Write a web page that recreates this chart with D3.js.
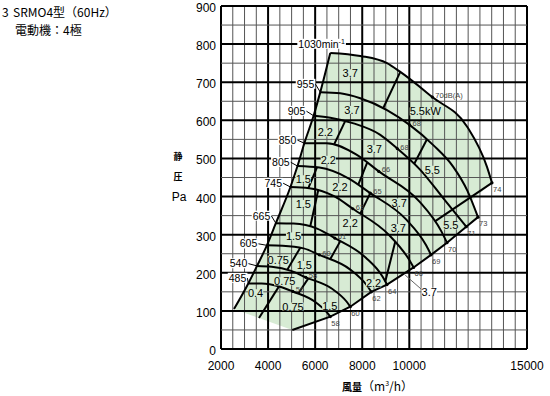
<!DOCTYPE html>
<html>
<head>
<meta charset="utf-8">
<script src="https://cdn.jsdelivr.net/npm/d3@7"></script>
<style>
  body { margin: 0; background: #fff; }
  svg text { font-family: "Noto Sans CJK JP", "Liberation Sans", sans-serif; }
  svg text.num { font-family: "Liberation Sans", Arial, sans-serif; }
  svg text.kw { font-family: "Liberation Sans Narrow", "Liberation Sans", sans-serif; }
</style>
</head>
<body>
<svg id="chart"></svg>
<script>
// tick labels
var xTicks = [2000, 4000, 6000, 8000, 10000, 15000];
var yTicks = [0, 100, 200, 300, 400, 500, 600, 700, 800, 900];

// fan speeds (min-1) and their curves: [airflow m3/h, static pressure Pa]
var speeds = [1030, 955, 905, 850, 805, 745, 665, 605, 540, 485];
var c1030 = [[6643,777],[7917,769],[9052,750],[9617,727],[10976,661],[12450,584],[13300,478],[13512,436]];
var c955  = [[6218,674],[7068,671],[7917,658],[9052,627],[10012,588],[11018,535],[11868,478],[12470,415],[12917,346]];
var c905  = [[5934,612],[6643,607],[7633,592],[8767,562],[9489,526],[10466,470],[11388,400],[12420,321]];
var c850  = [[5540,540],[6490,540],[7755,510],[8703,466],[10412,388],[11368,308],[11600,279]];
var c805  = [[5250,480],[6178,476],[7414,448],[8342,409],[9864,340],[10715,272],[10921,247]];
var c745  = [[4950,425],[5745,422],[6805,401],[7600,368],[9123,300],[9975,236],[10182,214]];
var c665  = [[4330,330],[5081,329],[6083,316],[6834,291],[8143,240],[8874,189],[9052,169]];
var c605  = [[3950,272],[4618,271],[5508,264],[6176,247],[7479,209],[8208,166],[8385,150]];
var c540  = [[3530,218],[4152,216],[4980,205],[5602,188],[6718,158],[7341,124],[7493,111]];
var c485  = [[3160,172],[3727,172],[4483,164],[5050,151],[5990,124],[6516,95],[6643,85]];
var curves = [c1030, c955, c905, c850, c805, c745, c665, c605, c540, c485];

// surge limit (left edge) and lower edge of the usable range
var surge = [[2552,105],[3160,172],[3530,218],[3950,272],[4330,330],[4950,425],[5250,480],[5540,540],[5934,612],[6218,674],[6643,777]];
var bottomEdge = [[2552,105],[5029,50]];
var edgeQ955 = 12650;   // where the 74 dB edge crosses the 955 curve

// noise (dB(A)) marks
var midQ  = [10976, 10012, 9489, 8703, 8342, 7600, 6834, 6176, 5602, 5050];
var midDb = ["70dB(A)", "68", "68", "66", "65", "63", "61", "60", "58", "56"];
var endDb = ["74", "73", "71", "70", "69", "66", "64", "62", "60", "58"];

// speed label anchors [Q, P]
var speedLabelAt = [[5284,800],[5963,695],[5581,624],[5199,548],[4914,490],[4591,435],[4094,349],[3542,276],[3117,224],[3075,186]];

// motor power boundaries: [upper curve, Q on it, lower curve (10 = lower edge), Q on it]
var dividers = [
  [0, 13512, 3, 11103],
  [0, 9617, 1, 8895],
  [1, 10751, 2, 10211],
  [2, 7280, 3, 6811],
  [3, 8215, 4, 7832],
  [4, 6078, 5, 5709], [4, 8342, 5, 7917],
  [5, 6133, 6, 5793], [5, 9404, 6, 8980],
  [6, 7070, 7, 6643],
  [7, 5369, 8, 4816],
  [8, 5709, 9, 5284],
  [9, 4464, 10, 3614]
];

// motor power labels [Q, P, kW]
var kwLabels = [
  [7492,723,"3.7"], [7565,627,"3.7"], [10678,623,"5.5kW"],
  [10976,470,"5.5"], [6431,568,"2.2"], [8512,524,"3.7"], [11762,324,"5.5"],
  [6558,496,"2.2"], [9570,384,"3.7"],
  [5496,445,"1.5"], [7055,424,"2.2"], [9532,317,"3.7"],
  [5496,380,"1.5"], [7492,331,"2.2"],
  [5084,295,"1.5"], [8482,172,"2.2"],
  [4434,234,"0.75"], [5539,220,"1.5"],
  [4710,177,"0.75"], [6622,112,"1.5"],
  [3470,146,"0.4"], [5058,111,"0.75"]
];
var kwLeader = [[9823,194],[10600,152]];
var kwLeaderLabel = [10848,150,"3.7"];

var svg = d3.select("#chart").attr("width", 550).attr("height", 396);
var x = d3.scaleLinear().domain([2000, 15000]).range([221, 527]);
var y = d3.scaleLinear().domain([0, 900]).range([349, 6]);
var smooth = d3.line().x(d => x(d[0])).y(d => y(d[1])).curve(d3.curveMonotoneX);
var straight = d3.line().x(d => x(d[0])).y(d => y(d[1]));

var gFill = svg.append("g");
var gGrid = svg.append("g");
var gLab = svg.append("g");
var gLines = svg.append("g");
var gText = svg.append("g");

// speed curves
var nodes = gLines.selectAll("path.speed")
    .data(curves)
    .enter()
    .append("path")
    .attr("class", "speed")
    .attr("d", smooth)
    .attr("fill", "none")
    .attr("stroke", "#000")
    .attr("stroke-width", 2)
    .nodes();

var surgeNode = gLines.append("path")
    .attr("d", smooth(surge))
    .attr("fill", "none")
    .attr("stroke", "#000")
    .attr("stroke-width", 2)
    .node();
var bottomNode = gLines.append("path")
    .attr("d", straight(bottomEdge))
    .attr("fill", "none")
    .attr("stroke", "none")
    .node();
var allNodes = nodes.concat([bottomNode]);

function findLen(node, px) {
  var lo = 0, hi = node.getTotalLength();
  for (var i = 0; i < 40; i++) {
    var mid = (lo + hi) / 2;
    if (node.getPointAtLength(mid).x < px) lo = mid; else hi = mid;
  }
  return (lo + hi) / 2;
}
function pointAt(node, q) {
  var p = node.getPointAtLength(findLen(node, x(q)));
  return [p.x, p.y];
}
function samplePath(node, l0, l1, n) {
  var pts = [];
  for (var i = 0; i <= n; i++) {
    var p = node.getPointAtLength(l0 + (l1 - l0) * i / n);
    pts.push([p.x, p.y]);
  }
  return pts;
}

// max flow edge through the curve ends
var endLine = curves.slice(1).map(c => c[c.length - 1]).concat([bottomEdge[1]]);
gLines.append("path")
    .attr("d", straight(endLine))
    .attr("fill", "none")
    .attr("stroke", "#000")
    .attr("stroke-width", 2);

// shaded range
var poly = samplePath(surgeNode, 0, surgeNode.getTotalLength(), 60)
    .concat(samplePath(nodes[0], 0, nodes[0].getTotalLength(), 80));
var l955 = findLen(nodes[1], x(edgeQ955));
poly = poly.concat(samplePath(nodes[1], l955, nodes[1].getTotalLength(), 20));
endLine.slice(1).forEach(d => poly.push([x(d[0]), y(d[1])]));
gFill.append("path")
    .attr("d", "M" + poly.join("L") + "Z")
    .attr("fill", "#d7ebd4");

// grid
var xGrid = d3.range(2000, 15001, 500);
var yGrid = d3.range(0, 901, 50);
var isMajorX = d => (d % 2000 == 0 && d <= 10000) || d == 15000;
gGrid.selectAll("line.v")
    .data(xGrid)
    .enter()
    .append("line")
    .attr("x1", d => x(d)).attr("x2", d => x(d))
    .attr("y1", y(0)).attr("y2", y(900))
    .attr("stroke", d => isMajorX(d) ? "#000" : "#555")
    .attr("stroke-width", d => isMajorX(d) ? 2 : 1);
gGrid.selectAll("line.h")
    .data(yGrid)
    .enter()
    .append("line")
    .attr("y1", d => y(d)).attr("y2", d => y(d))
    .attr("x1", x(2000)).attr("x2", x(15000))
    .attr("stroke", d => d % 100 == 0 ? "#000" : "#555")
    .attr("stroke-width", d => d % 100 == 0 ? 2 : 1);

// tick labels
gText.selectAll("text.xt")
    .data(xTicks)
    .enter()
    .append("text")
    .attr("class", "num")
    .attr("x", d => x(d))
    .attr("y", 370)
    .attr("text-anchor", "middle")
    .attr("font-size", 12)
    .text(d => d);
gText.selectAll("text.yt")
    .data(yTicks)
    .enter()
    .append("text")
    .attr("class", "num")
    .attr("x", 216)
    .attr("y", d => y(d) + 6)
    .attr("text-anchor", "end")
    .attr("font-size", 12)
    .text(d => d);

// dividers
dividers.forEach(function (d) {
  var a = pointAt(allNodes[d[0]], d[1]), b = pointAt(allNodes[d[2]], d[3]);
  gLines.append("line")
      .attr("x1", a[0]).attr("y1", a[1])
      .attr("x2", b[0]).attr("y2", b[1])
      .attr("stroke", "#000")
      .attr("stroke-width", 2);
});

// speed labels with leaders
speeds.forEach(function (s, i) {
  var g = gLab.append("g");
  var bg = g.append("rect").attr("fill", "#fff");
  var t = g.append("text")
      .attr("class", "num")
      .attr("x", x(speedLabelAt[i][0]))
      .attr("y", y(speedLabelAt[i][1]))
      .attr("dy", "0.35em")
      .attr("font-size", 10.5)
      .attr("text-anchor", i == 0 ? "start" : "end");
  t.append("tspan").text(s);
  if (i == 0) {
    t.append("tspan").text("min");
    t.append("tspan").attr("font-size", 7).attr("dy", -4).text("-1");
  }
  var bb = t.node().getBBox();
  bg.attr("x", bb.x - 1).attr("y", bb.y + 1).attr("width", bb.width + 2).attr("height", bb.height - 2);
  if (i > 0) {
    var st = curves[i][0];
    gLines.append("line")
        .attr("x1", bb.x + bb.width + 1).attr("y1", y(speedLabelAt[i][1]))
        .attr("x2", x(st[0])).attr("y2", y(st[1]))
        .attr("stroke", "#000")
        .attr("stroke-width", 1);
  }
});

// kW labels
kwLabels.forEach(function (d) {
  var g = gText.append("g");
  var bg = g.append("rect").attr("fill", "#d7ebd4");
  var t = g.append("text")
      .attr("class", "kw")
      .attr("x", x(d[0])).attr("y", y(d[1]))
      .attr("dy", "0.35em")
      .attr("text-anchor", "middle")
      .attr("font-size", 11)
      .text(d[2]);
  var bb = t.node().getBBox();
  bg.attr("x", bb.x).attr("y", bb.y + 2).attr("width", bb.width).attr("height", bb.height - 4);
});
gText.append("line")
    .attr("x1", x(kwLeader[0][0])).attr("y1", y(kwLeader[0][1]))
    .attr("x2", x(kwLeader[1][0])).attr("y2", y(kwLeader[1][1]))
    .attr("stroke", "#666").attr("stroke-width", 1);
var lg = gText.append("g");
var lbg = lg.append("rect").attr("fill", "#fff");
var lt = lg.append("text")
    .attr("class", "kw")
    .attr("x", x(kwLeaderLabel[0])).attr("y", y(kwLeaderLabel[1]))
    .attr("dy", "0.35em").attr("text-anchor", "middle").attr("font-size", 11)
    .text(kwLeaderLabel[2]);
var lbb = lt.node().getBBox();
lbg.attr("x", lbb.x).attr("y", lbb.y + 2).attr("width", lbb.width).attr("height", lbb.height - 4);

// dB marks
curves.forEach(function (c, i) {
  var m = pointAt(nodes[i], midQ[i]);
  var e = [x(c[c.length - 1][0]), y(c[c.length - 1][1])];
  [m, e].forEach(function (p) {
    gText.append("circle").attr("cx", p[0]).attr("cy", p[1]).attr("r", 1.6).attr("fill", "#000");
  });
  gText.append("text")
      .attr("class", "num")
      .attr("x", m[0] + 3).attr("y", m[1] + 1)
      .attr("font-size", 7.5).attr("fill", "#444")
      .text(midDb[i]);
  gText.append("text")
      .attr("class", "num")
      .attr("x", e[0] + 1).attr("y", e[1] + 9)
      .attr("font-size", 7.5).attr("fill", "#444")
      .text(endDb[i]);
});

// titles
svg.append("text").attr("x", 2).attr("y", 17).attr("font-size", 12).text("3");
svg.append("text").attr("x", 13).attr("y", 17).attr("font-size", 12).text("SRMO4型（60Hz）");
svg.append("text").attr("x", 15).attr("y", 35).attr("font-size", 12).text("電動機：4極");

svg.append("text").attr("x", 178).attr("y", 157).attr("dy", "0.35em").attr("text-anchor", "middle")
    .attr("font-size", 9).attr("font-weight", "bold").text("静");
svg.append("text").attr("x", 178).attr("y", 177).attr("dy", "0.35em").attr("text-anchor", "middle")
    .attr("font-size", 9).attr("font-weight", "bold").text("圧");
svg.append("text").attr("class", "num").attr("x", 179).attr("y", 197).attr("dy", "0.35em").attr("text-anchor", "middle")
    .attr("font-size", 12).text("Pa");

var xt = svg.append("text").attr("x", 342).attr("y", 391).attr("font-size", 12);
xt.append("tspan").attr("font-size", 10).attr("font-weight", "bold").text("風量");
xt.append("tspan").text("（m");
xt.append("tspan").attr("font-size", 7).attr("dy", -5).text("3");
xt.append("tspan").attr("dy", 5).text("/h）");
</script>
</body>
</html>
